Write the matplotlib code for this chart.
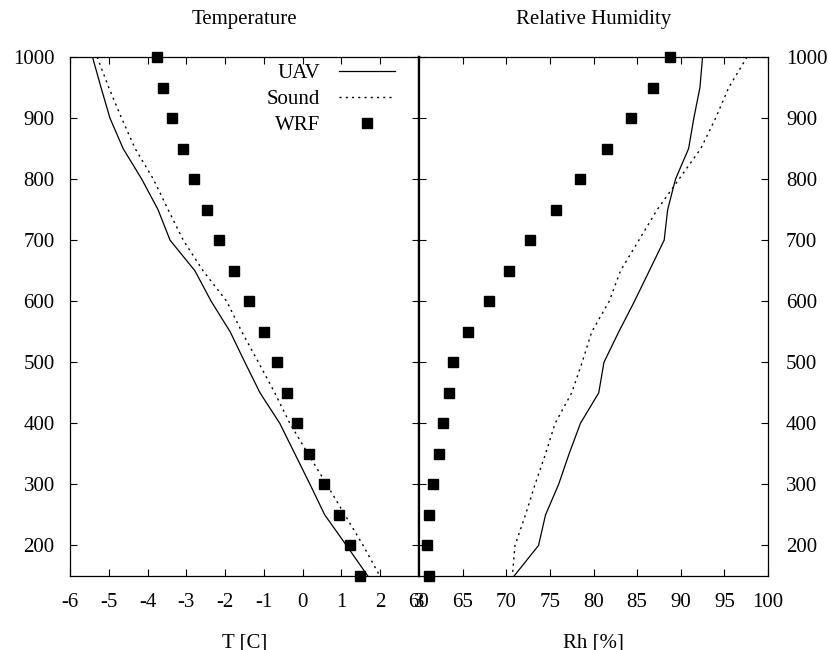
import matplotlib
matplotlib.use("Agg")
import matplotlib.pyplot as plt

plt.rcParams['font.family'] = ['Liberation Serif', 'DejaVu Serif']
plt.rcParams['font.size'] = 15
plt.rcParams['axes.unicode_minus'] = False

# pressure levels [hPa]
lev = [1000, 950, 900, 850, 800, 750, 700, 650, 600,
       550, 500, 450, 400, 350, 300, 250, 200, 150]

# temperature [C]
t_uav = [-5.42, -5.20, -4.97, -4.63, -4.15, -3.73, -3.42, -2.78, -2.36,
         -1.87, -1.49, -1.10, -0.59, -0.20, 0.19, 0.57, 1.13, 1.68]
t_sound = [-5.30, -5.00, -4.67, -4.32, -3.85, -3.47, -3.08, -2.57, -1.96,
           -1.57, -1.14, -0.72, -0.33, 0.14, 0.62, 1.09, 1.56, 1.99]
t_wrf = [-3.75, -3.60, -3.38, -3.08, -2.79, -2.47, -2.15, -1.77, -1.38,
         -0.99, -0.67, -0.40, -0.15, 0.17, 0.56, 0.94, 1.22, 1.48]

# relative humidity [%]
rh_uav = [92.5, 92.2, 91.5, 90.9, 89.4, 88.5, 88.1, 86.4, 84.7,
          82.9, 81.2, 80.6, 78.5, 77.2, 76.0, 74.5, 73.7, 70.9]
rh_sound = [97.6, 95.5, 94.0, 92.3, 89.8, 87.3, 85.2, 83.1, 81.8,
            79.8, 78.7, 77.5, 75.6, 74.5, 73.3, 72.2, 71.0, 70.7]
rh_wrf = [88.8, 86.8, 84.3, 81.5, 78.5, 75.7, 72.7, 70.35, 68.0,
          65.6, 63.9, 63.4, 62.8, 62.3, 61.55, 61.1, 60.9, 61.1]

t_ticks = [-6, -5, -4, -3, -2, -1, 0, 1, 2, 3]
rh_ticks = [60, 65, 70, 75, 80, 85, 90, 95, 100]
p_ticks = [200, 300, 400, 500, 600, 700, 800, 900, 1000]

W, H = 829, 650
fig = plt.figure(figsize=(W / 100, H / 100), dpi=100)
ax1 = fig.add_axes([70 / W, 74 / H, 349 / W, 519 / H])
ax2 = fig.add_axes([419 / W, 74 / H, 349 / W, 519 / H])

dots = (0, (1.5, 3))

# temperature panel
ax1.plot(t_uav, lev, '-', color='black', lw=0.9, label='UAV')
ax1.plot(t_sound, lev, linestyle=dots, color='black', lw=1.0, label='Sound')
ax1.plot(t_wrf, lev, 's', color='black', ms=6.8, clip_on=False, label='WRF')
ax1.set_xlim(-6, 3)
ax1.set_ylim(150, 1000)
ax1.set_xticks(t_ticks)
ax1.set_yticks(p_ticks)
ax1.tick_params(direction='in', length=5, top=True, right=True, width=0.8)
ax1.tick_params(axis='y', pad=11)
ax1.tick_params(axis='x', pad=12)
ax1.set_title('Temperature', fontsize=15, pad=24)
ax1.set_xlabel('T [C]', labelpad=16)
ax1.legend(loc='upper right', bbox_to_anchor=(0.931, 0.987), frameon=False,
           markerfirst=False, borderpad=0, borderaxespad=0, handlelength=2.7,
           handletextpad=0.9, labelspacing=0.3, numpoints=1)

# humidity panel
ax2.plot(rh_uav, lev, '-', color='black', lw=0.9)
ax2.plot(rh_sound, lev, linestyle=dots, color='black', lw=1.0)
ax2.plot(rh_wrf, lev, 's', color='black', ms=6.8, clip_on=False)
ax2.set_xlim(60, 100)
ax2.set_ylim(150, 1000)
ax2.set_xticks(rh_ticks)
ax2.set_yticks(p_ticks)
ax2.tick_params(direction='in', length=5, top=True, left=True, right=True,
                labelleft=False, labelright=True, width=0.8)
ax2.tick_params(axis='y', pad=13)
ax2.tick_params(axis='x', pad=12)
ax2.set_title('Relative Humidity', fontsize=15, pad=24)
ax2.set_xlabel('Rh [%]', labelpad=16)

for ax in (ax1, ax2):
    for s in ax.spines.values():
        s.set_linewidth(0.9)
ax1.spines['right'].set_linewidth(1.6)
ax2.spines['left'].set_linewidth(1.6)

fig.savefig('out.png', dpi=100)
